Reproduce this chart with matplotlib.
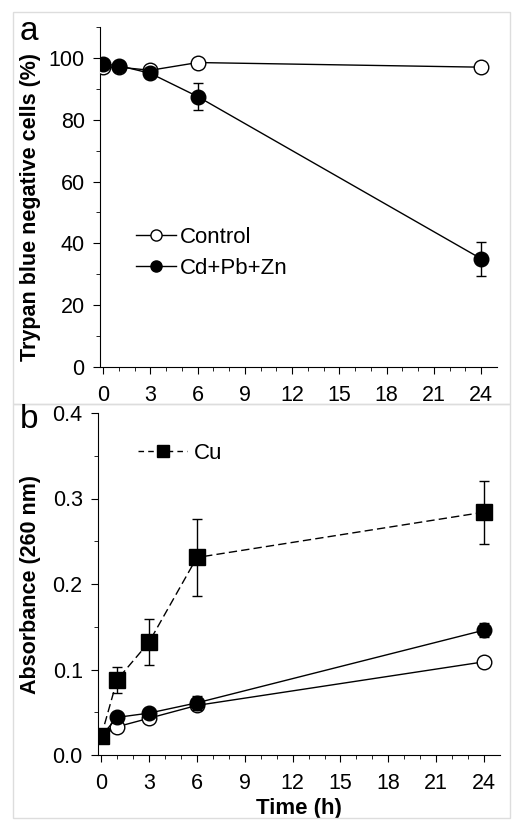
import numpy as np
import matplotlib.pyplot as plt
from matplotlib.patches import Rectangle
from matplotlib.lines import Line2D

plt.rcParams['font.family'] = ['Liberation Sans', 'DejaVu Sans']

# panel a: trypan blue negative cells (%)
time_a = [0, 1, 3, 6, 24]
control_a = [97, 97, 96, 98.5, 97]
control_a_err = [1, 1, 1, 1, 1]
metal_a = [98, 97.5, 95, 87.5, 35]
metal_a_err = [1, 1, 1.5, 4.5, 5.5]

# panel b: absorbance at 260 nm
time_b = [0, 1, 3, 6, 24]
control_b = [0.022, 0.033, 0.043, 0.058, 0.109]
control_b_err = [0.003, 0.003, 0.003, 0.004, 0.004]
metal_b = [0.022, 0.044, 0.049, 0.061, 0.146]
metal_b_err = [0.003, 0.004, 0.004, 0.008, 0.008]
cu_b = [0.022, 0.088, 0.132, 0.231, 0.284]
cu_b_err = [0.003, 0.015, 0.027, 0.045, 0.037]

xticks = [0, 3, 6, 9, 12, 15, 18, 21, 24]

fig = plt.figure(figsize=(5.15, 8.23), dpi=100)

# light frames around each panel
fig.patches.append(Rectangle((13/515, 1-404/823), 497/515, 392/823, transform=fig.transFigure,
                             fill=False, edgecolor='#dddddd', lw=1))
fig.patches.append(Rectangle((13/515, 1-818/823), 497/515, 414/823, transform=fig.transFigure,
                             fill=False, edgecolor='#dddddd', lw=1))

ax1 = fig.add_axes([100/515, 1-367/823, 397/515, 340/823])
ax2 = fig.add_axes([98/515, 1-755/823, 402/515, 342/823])

mk = dict(color='black', lw=1, capsize=3.5, elinewidth=1, capthick=1, markersize=10.5)

ax1.errorbar(time_a, control_a, yerr=control_a_err, marker='o', mfc='white', mec='black',
             zorder=3, **mk)
ax1.errorbar(time_a, metal_a, yerr=metal_a_err, marker='o', mfc='black', mec='black',
             zorder=4, **mk)

ax2.errorbar(time_b, cu_b, yerr=cu_b_err, marker='s', mfc='black', mec='black', ls=(0, (6, 3)),
             zorder=5, color='black', lw=1, capsize=3.5, elinewidth=1, markersize=11.5)
ax2.errorbar(time_b, control_b, yerr=control_b_err, marker='o', mfc='white', mec='black',
             zorder=3, **mk)
ax2.errorbar(time_b, metal_b, yerr=metal_b_err, marker='o', mfc='black', mec='black',
             zorder=4, **mk)

for ax in (ax1, ax2):
    ax.spines['top'].set_visible(False)
    ax.spines['right'].set_visible(False)
    ax.set_xlim(-0.2, 25)
    ax.set_xticks(xticks)
    ax.set_xticks(np.arange(0, 25, 1), minor=True)
    ax.tick_params(axis='both', which='major', direction='out', length=5, labelsize=15.5, pad=6)
    ax.tick_params(axis='x', which='major', pad=8)
    ax.tick_params(axis='both', which='minor', direction='out', length=3)

ax1.set_ylim(0, 110)
ax1.set_yticks([0, 20, 40, 60, 80, 100])
ax1.set_yticks(np.arange(0, 111, 10), minor=True)
ax1.set_ylabel('Trypan blue negative cells (%)', fontsize=15.5, fontweight='bold')
ax1.yaxis.set_label_coords(-59/397, 0.47)
h_ctrl = Line2D([], [], color='black', lw=1, marker='o', mfc='white', mec='black', markersize=8)
h_metal = Line2D([], [], color='black', lw=1, marker='o', mfc='black', mec='black', markersize=8)
ax1.legend([h_ctrl, h_metal], ['Control', 'Cd+Pb+Zn'], loc='upper left',
           bbox_to_anchor=(0.04, 0.47), frameon=False, fontsize=16,
           handlelength=1.8, handletextpad=0.2, labelspacing=0.45)

ax2.set_ylim(0, 0.4)
ax2.set_yticks([0.0, 0.1, 0.2, 0.3, 0.4])
ax2.set_yticks(np.arange(0, 0.41, 0.05), minor=True)
ax2.yaxis.set_major_formatter(plt.FormatStrFormatter('%.1f'))
ax2.set_ylabel('Absorbance (260 nm)', fontsize=15.5, fontweight='bold')
ax2.yaxis.set_label_coords(-57/402, 0.5)
ax2.set_xlabel('Time (h)', fontsize=16, fontweight='bold', labelpad=3)
h_cu = Line2D([], [], color='black', lw=1, ls=(0, (4, 3)), marker='s', mfc='black', mec='black',
              markersize=8)
ax2.legend([h_cu], ['Cu'], loc='upper left', bbox_to_anchor=(0.05, 0.97), frameon=False,
           fontsize=16, handlelength=2.2, handletextpad=0.3)

fig.text(20/515, 1-32/823, 'a', fontsize=24, va='center')
fig.text(20/515, 1-420/823, 'b', fontsize=24, va='center')

fig.savefig('out.png', dpi=100)
